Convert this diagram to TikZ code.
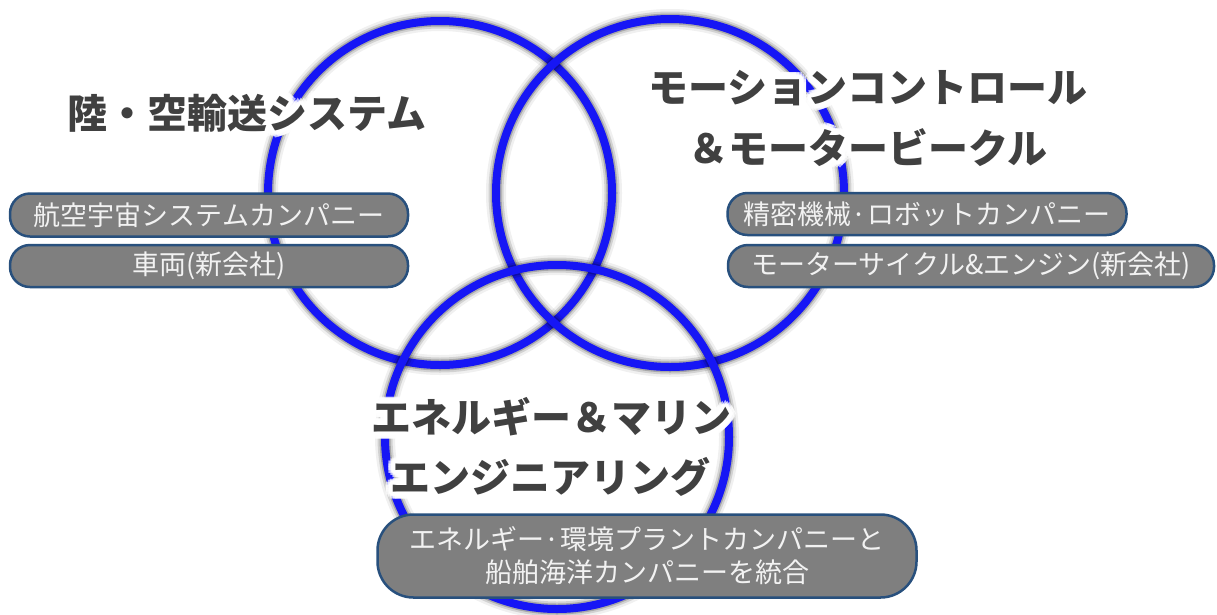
\documentclass[tikz,border=0pt]{standalone}
\usepackage{fontspec}
\setmainfont{Noto Sans CJK JP}
\usetikzlibrary{calc}
\definecolor{ringblue}{RGB}{22,22,245}
\definecolor{titlegray}{RGB}{64,64,64}
\definecolor{boxgray}{RGB}{127,127,127}
\definecolor{boxedge}{RGB}{40,80,125}
\definecolor{boxtext}{RGB}{242,242,242}
\tikzset{
  ring/.style={circle, draw=ringblue, line width=8pt, inner sep=0pt, minimum size=#1,
    preaction={draw=black, line width=20pt, opacity=0.06},
    preaction={draw=black, line width=15pt, opacity=0.12},
    preaction={draw=black, line width=11pt, opacity=0.2}},
  titlefont/.style={font=\fontsize{40}{48}\selectfont\bfseries, inner sep=0pt},
  pill/.style={draw=boxedge, line width=2.5pt, fill=boxgray, text=boxtext,
    font=\fontsize{27}{33}\selectfont, inner sep=0pt, align=center},
}
\newcommand\glowtitle[3]{%
  \foreach \a [count=\i] in {0,22.5,...,337.5}{
    \node[titlefont, text=white, opacity=0.7] (#1-o\i) at ($(#2)+(\a:7pt)$) {#3};
  }
  \foreach \a [count=\i] in {0,22.5,...,337.5}{
    \node[titlefont, text=white] (#1-g\i) at ($(#2)+(\a:4pt)$) {#3};
  }
  \node[titlefont, text=titlegray] (#1) at (#2) {#3};
}
\begin{document}
\begin{tikzpicture}[x=1pt,y=-1pt]
\fill[white] (0,0) rectangle (1217,614);
\useasboundingbox (0,0) rectangle (1217,614);
\begin{scope}
\clip (0,0) rectangle (1217,614);
% circles
\node[ring=344pt] (cL) at (440,193) {};
\node[ring=348pt] (cR) at (670,193) {};
\node[ring=344pt] (cB) at (557,437) {};
% titles
\glowtitle{tL}{247,113}{陸・空輸送システム}
\glowtitle{tR1}{868,88}{モーションコントロール}
\glowtitle{tR2}{868,148}{＆モータービークル}
\glowtitle{tB1}{551,417}{エネルギー＆マリン}
\glowtitle{tB2}{550,477}{エンジニアリング}
% boxes
\node[pill, rounded corners=20pt, minimum width=398pt, minimum height=43pt] (b1) at (209,215) {航空宇宙システムカンパニー};
\node[pill, rounded corners=20pt, minimum width=398pt, minimum height=42pt] (b2) at (209,266) {車両(新会社)};
\node[pill, rounded corners=20pt, minimum width=399pt, minimum height=42pt] (b3) at (927,214) {精密機械·ロボットカンパニー};
\node[pill, rounded corners=20pt, minimum width=486pt, minimum height=42pt] (b4) at (971,266) {モーターサイクル\&エンジン(新会社)};
\node[pill, rounded corners=36pt, minimum width=539pt, minimum height=83pt] (b5) at (647,556) {エネルギー·環境プラントカンパニーと\\船舶海洋カンパニーを統合};
\end{scope}
\end{tikzpicture}
\end{document}
